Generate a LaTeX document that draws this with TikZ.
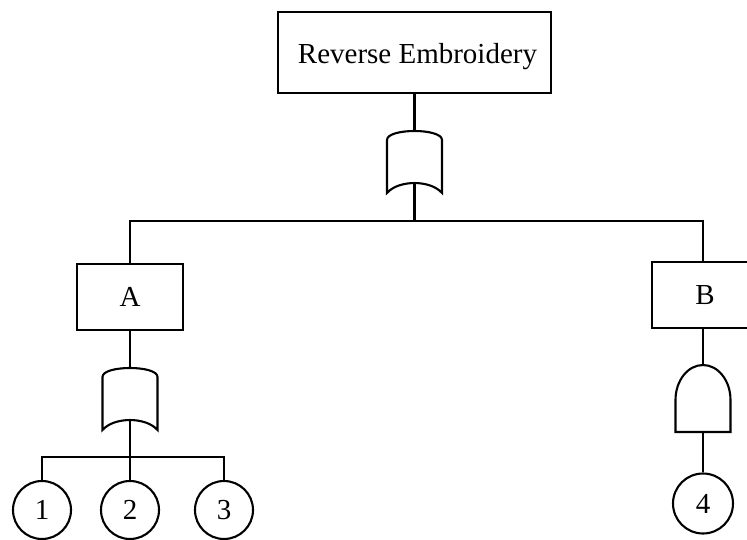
\documentclass[tikz,border=0pt]{standalone}
\usepackage{fontspec}
\setmainfont{Liberation Serif}
\begin{document}
\begin{tikzpicture}[x=1pt,y=-1pt,
  every node/.style={font=\fontsize{29}{31}\selectfont},
  event/.style={draw, line width=2.1pt, inner sep=0pt},
  basic/.style={draw, circle, line width=2.1pt, inner sep=0pt, minimum size=58pt},
  wire/.style={line width=2.1pt},
  gateline/.style={draw, line width=2.1pt, line join=miter},
  orgate/.pic={
    \draw[gateline] (-27.5,62) -- (-27.5,9)
      .. controls (-27.5,-3) and (27.5,-3) .. (27.5,9) -- (27.5,62)
      .. controls (16,48.7) and (-16,48.7) .. cycle;
    \coordinate (-in) at (0,0);
    \coordinate (-out) at (0,52);
  },
  andgate/.pic={
    \draw[gateline] (-27.5,67) -- (-27.5,35)
      .. controls (-27.5,15.67) and (-15.19,0) .. (0,0)
      .. controls (15.19,0) and (27.5,15.67) .. (27.5,35) -- (27.5,67) -- cycle;
    \coordinate (-in) at (0,0);
    \coordinate (-out) at (0,67);
  }
]
\useasboundingbox (0,0) rectangle (747,540);
\clip (0,0) rectangle (747,540);

% events
\node[event, minimum width=273pt, minimum height=81pt, text height=29pt, text depth=6pt]
  (top) at (414.5,52.5) {\hspace*{6pt}Reverse Embroidery};
\node[event, minimum width=106pt, minimum height=66pt] (A) at (130,297) {A};
\node[event, minimum width=102pt, minimum height=66pt] (B) at (703,295) {\hspace*{4pt}B};

% gates
\pic (g1) at (414.5,131) {orgate};
\pic (g2) at (130,368) {orgate};
\pic (g3) at (703,365) {andgate};

% basic events
\node[basic] (e1) at (42,510) {1};
\node[basic] (e2) at (130,510) {2};
\node[basic] (e3) at (224,510) {3};
\node[basic, minimum size=60pt] (e4) at (703,503.5) {4};

% junctions
\coordinate (j1) at (414.5,221);
\coordinate (j2) at (130,457);

% connectors
\draw[wire] (top.south) -- (g1-in);
\draw[wire] (g1-out) -- (j1);
\draw[wire] (A.north) |- (j1) -| (B.north);
\draw[wire] (A.south) -- (g2-in);
\draw[wire] (g2-out) -- (j2);
\draw[wire] (e1.north) |- (j2) -| (e3.north);
\draw[wire] (j2) -- (e2.north);
\draw[wire] (B.south) -- (g3-in);
\draw[wire] (g3-out) -- (e4.north);
\end{tikzpicture}
\end{document}
